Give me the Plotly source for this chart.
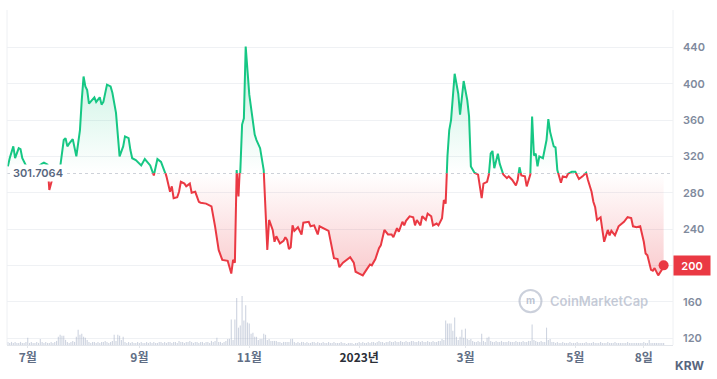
import pandas as pd
import plotly.graph_objects as go

# ---------------- data ----------------
price_dates = [
    "2022-06-20", "2022-06-21", "2022-06-23", "2022-06-24", "2022-06-26", "2022-06-27", "2022-06-28", "2022-06-30",
    "2022-07-03", "2022-07-06", "2022-07-09", "2022-07-10", "2022-07-12", "2022-07-13", "2022-07-15", "2022-07-17",
    "2022-07-19", "2022-07-21", "2022-07-22", "2022-07-23", "2022-07-24", "2022-07-26", "2022-07-28", "2022-07-30",
    "2022-07-31", "2022-08-01", "2022-08-02", "2022-08-03", "2022-08-04", "2022-08-06", "2022-08-07", "2022-08-08",
    "2022-08-10", "2022-08-11", "2022-08-12", "2022-08-14", "2022-08-16", "2022-08-17", "2022-08-19", "2022-08-21",
    "2022-08-23", "2022-08-24", "2022-08-26", "2022-08-27", "2022-08-28", "2022-08-30", "2022-09-01", "2022-09-02",
    "2022-09-04", "2022-09-06", "2022-09-07", "2022-09-09", "2022-09-11", "2022-09-13", "2022-09-15", "2022-09-16",
    "2022-09-17", "2022-09-18", "2022-09-19", "2022-09-20", "2022-09-22", "2022-09-23", "2022-09-24", "2022-09-26",
    "2022-09-27", "2022-09-29", "2022-09-30", "2022-10-02", "2022-10-04", "2022-10-05", "2022-10-08", "2022-10-11",
    "2022-10-13", "2022-10-15", "2022-10-17", "2022-10-20", "2022-10-22", "2022-10-23", "2022-10-24", "2022-10-25",
    "2022-10-26", "2022-10-27", "2022-10-28", "2022-10-29", "2022-10-30", "2022-11-01", "2022-11-02", "2022-11-04",
    "2022-11-05", "2022-11-07", "2022-11-09", "2022-11-11", "2022-11-12", "2022-11-14", "2022-11-15", "2022-11-16",
    "2022-11-18", "2022-11-20", "2022-11-21", "2022-11-22", "2022-11-23", "2022-11-24", "2022-11-25", "2022-11-26",
    "2022-11-28", "2022-11-30", "2022-12-01", "2022-12-04", "2022-12-05", "2022-12-07", "2022-12-09", "2022-12-10",
    "2022-12-12", "2022-12-15", "2022-12-16", "2022-12-18", "2022-12-20", "2022-12-21", "2022-12-23", "2022-12-25",
    "2022-12-27", "2022-12-29", "2022-12-30", "2023-01-01", "2023-01-03", "2023-01-05", "2023-01-07", "2023-01-08",
    "2023-01-10", "2023-01-12", "2023-01-13", "2023-01-15", "2023-01-17", "2023-01-19", "2023-01-20", "2023-01-22",
    "2023-01-23", "2023-01-25", "2023-01-26", "2023-01-27", "2023-01-29", "2023-01-31", "2023-02-01", "2023-02-02",
    "2023-02-04", "2023-02-05", "2023-02-07", "2023-02-08", "2023-02-10", "2023-02-11", "2023-02-13", "2023-02-14",
    "2023-02-16", "2023-02-17", "2023-02-18", "2023-02-19", "2023-02-20", "2023-02-21", "2023-02-23", "2023-02-25",
    "2023-02-26", "2023-02-28", "2023-03-02", "2023-03-03", "2023-03-04", "2023-03-06", "2023-03-08", "2023-03-10",
    "2023-03-11", "2023-03-13", "2023-03-14", "2023-03-15", "2023-03-16", "2023-03-17", "2023-03-19", "2023-03-20",
    "2023-03-22", "2023-03-24", "2023-03-25", "2023-03-27", "2023-03-29", "2023-03-30", "2023-03-31", "2023-04-01",
    "2023-04-03", "2023-04-04", "2023-04-05", "2023-04-06", "2023-04-07", "2023-04-08", "2023-04-09", "2023-04-10",
    "2023-04-11", "2023-04-13", "2023-04-15", "2023-04-16", "2023-04-17", "2023-04-19", "2023-04-20", "2023-04-21",
    "2023-04-23", "2023-04-24", "2023-04-26", "2023-04-27", "2023-04-29", "2023-05-01", "2023-05-03", "2023-05-05",
    "2023-05-07", "2023-05-08", "2023-05-10", "2023-05-11", "2023-05-12", "2023-05-13", "2023-05-15", "2023-05-16",
    "2023-05-17", "2023-05-19", "2023-05-20", "2023-05-21", "2023-05-23", "2023-05-25", "2023-05-27", "2023-05-28",
    "2023-05-30", "2023-06-01", "2023-06-02", "2023-06-04", "2023-06-06", "2023-06-07", "2023-06-08", "2023-06-09",
    "2023-06-10", "2023-06-12", "2023-06-13", "2023-06-14", "2023-06-16", "2023-06-18", "2023-06-19",
]
price_values = [
    309, 318, 331, 318, 329, 328, 318, 310,
    305, 308, 312, 313, 311, 283, 298, 305,
    308, 338, 340, 331, 334, 339, 320, 349,
    382, 408, 397, 393, 378, 382, 385, 380,
    385, 377, 380, 399, 397, 390, 368, 320,
    331, 342, 340, 327, 318, 316, 312, 310,
    317, 312, 310, 299, 317, 314, 305, 298,
    288, 281, 287, 274, 275, 281, 292, 290,
    287, 290, 280, 281, 270, 269, 268, 265,
    243, 217, 206, 205, 191, 206, 203, 305,
    276, 303, 355, 362, 441, 388, 375, 344,
    338, 329, 305, 217, 250, 239, 226, 232,
    224, 227, 231, 228, 218, 220, 244, 238,
    242, 234, 247, 248, 243, 244, 234, 243,
    241, 238, 228, 208, 207, 198, 203, 206,
    209, 203, 193, 191, 189, 195, 201, 200,
    207, 219, 222, 239, 234, 234, 231, 241,
    237, 248, 244, 249, 254, 253, 244, 250,
    244, 254, 250, 257, 254, 244, 246, 244,
    252, 272, 268, 320, 349, 360, 411, 389,
    366, 403, 382, 364, 309, 302, 300, 274,
    290, 292, 300, 323, 326, 307, 323, 312,
    300, 296, 298, 294, 288, 294, 308, 299,
    298, 287, 294, 300, 364, 321, 323, 309,
    320, 318, 338, 361, 347, 331, 330, 305,
    291, 298, 297, 301, 303, 303, 295, 298,
    302, 294, 281, 270, 264, 250, 253, 239,
    226, 239, 233, 238, 233, 243, 246, 248,
    253, 252, 243, 242, 243, 235, 226, 213,
    211, 195, 194, 197, 189, 195, 200,
]

# daily trading volume (relative units), one value per day from volume_start
volume_start = "2022-06-20"
volume_values = [
    3, 2, 3, 2, 3, 2, 2, 3, 2, 2,
    3, 7, 2, 3, 2, 2, 3, 2, 6, 3,
    2, 3, 2, 2, 3, 2, 3, 4, 8, 10,
    9, 9, 5, 3, 2, 3, 4, 3, 8, 15,
    10, 11, 8, 7, 5, 3, 2, 3, 3, 2,
    3, 2, 3, 3, 4, 3, 2, 3, 4, 10,
    4, 10, 9, 5, 8, 3, 2, 3, 2, 3,
    2, 2, 3, 2, 3, 2, 2, 3, 2, 3,
    2, 3, 2, 2, 3, 3, 2, 3, 2, 3,
    3, 2, 3, 3, 2, 4, 3, 3, 2, 3,
    3, 4, 3, 2, 3, 3, 2, 3, 3, 2,
    3, 3, 2, 4, 3, 4, 7, 3, 3, 2,
    3, 4, 6, 6, 25, 5, 25, 46, 17, 19,
    48, 24, 39, 22, 21, 11, 12, 8, 8, 5,
    6, 6, 11, 10, 5, 6, 4, 4, 4, 4,
    3, 3, 2, 3, 3, 3, 3, 6, 6, 3,
    2, 3, 2, 3, 3, 2, 3, 2, 2, 3,
    3, 2, 3, 2, 2, 3, 2, 2, 3, 2,
    2, 3, 2, 2, 2, 3, 2, 2, 1, 2,
    2, 2, 1, 2, 2, 3, 2, 3, 2, 2,
    3, 2, 3, 3, 2, 3, 4, 3, 3, 2,
    3, 3, 4, 3, 3, 4, 3, 3, 4, 3,
    3, 4, 3, 3, 4, 4, 3, 3, 4, 3,
    4, 3, 3, 4, 3, 3, 4, 3, 3, 4,
    4, 6, 5, 24, 21, 21, 21, 14, 27, 8,
    5, 8, 15, 7, 16, 6, 5, 6, 4, 3,
    3, 4, 3, 11, 4, 3, 7, 8, 4, 3,
    3, 4, 3, 3, 4, 3, 3, 3, 4, 3,
    3, 3, 4, 3, 3, 3, 4, 3, 3, 4,
    4, 20, 5, 4, 3, 3, 4, 3, 3, 17,
    5, 6, 3, 3, 2, 3, 2, 2, 3, 2,
    2, 2, 3, 2, 2, 2, 3, 2, 2, 2,
    2, 3, 2, 2, 2, 3, 2, 2, 2, 3,
    2, 2, 2, 3, 2, 2, 2, 3, 2, 2,
    2, 2, 2, 2, 3, 2, 2, 2, 2, 2,
    2, 2, 2, 3, 2, 2, 5, 2, 2, 2,
    2, 2, 2, 2, 2,
]

baseline = 301.7064
x_tick_dates = ["2022-07-01", "2022-09-01", "2022-11-01", "2023-01-01", "2023-03-01", "2023-05-01", "2023-06-08"]
x_tick_labels = ["7월", "9월", "11월", "<b><span style='color:#2b2f38'>2023년</span></b>", "3월", "5월", "8일"]
y_ticks_low = [120, 160, 200, 240, 280]
y_ticks_high = [320, 360, 400, 440]
currency = "KRW"

# ---------------- style ----------------
GREEN = "#16c784"
RED = "#ea3943"
GRID = "#eff1f4"
AXIS_TEXT = "#808a9d"
W, H = 717, 379
M_L, M_R, M_T, M_B = 7, 44, 10, 34
PLOT_H = H - M_T - M_B
Y_MIN, Y_MAX = 112.3, 481.2
split = (baseline - Y_MIN) / (Y_MAX - Y_MIN)
vol_top = max(volume_values) * (split * PLOT_H) / 49.0
last_price = price_values[-1]

vol_dates = pd.date_range(volume_start, periods=len(volume_values), freq="D")

fig = go.Figure()

# volume bars
fig.add_trace(go.Bar(
    x=vol_dates, y=volume_values, yaxis="y3",
    marker=dict(color="rgba(160,172,196,0.5)", line_width=0),
    width=0.62 * 86400000, hoverinfo="skip",
))

# upper (green) part: clipped to the domain above the baseline
fig.add_trace(go.Scatter(
    x=price_dates, y=price_values, yaxis="y2", mode="lines",
    line=dict(color=GREEN, width=2),
    fill="tozeroy",
    fillgradient=dict(type="vertical",
                      colorscale=[[0, "rgba(22,199,132,0)"], [1, "rgba(22,199,132,0.26)"]],
                      start=baseline, stop=max(price_values)),
    hoverinfo="skip",
))

# helper ceiling for the red fill (off-range, clipped)
fig.add_trace(go.Scatter(
    x=[price_dates[0], price_dates[-1]], y=[1000, 1000], yaxis="y",
    mode="lines", line=dict(width=0, color="rgba(0,0,0,0)"), hoverinfo="skip",
))
# lower (red) part: clipped to the domain below the baseline
fig.add_trace(go.Scatter(
    x=price_dates, y=price_values, yaxis="y", mode="lines",
    line=dict(color=RED, width=2),
    fill="tonexty",
    fillgradient=dict(type="vertical",
                      colorscale=[[0, "rgba(234,57,67,0.26)"], [1, "rgba(234,57,67,0)"]],
                      start=min(price_values), stop=baseline),
    hoverinfo="skip",
))

# last price dot
fig.add_trace(go.Scatter(
    x=[price_dates[-1]], y=[last_price], yaxis="y", mode="markers",
    marker=dict(color=RED, size=10), cliponaxis=False, hoverinfo="skip",
))

tick_font = dict(family="Inter, sans-serif", size=11, color=AXIS_TEXT, weight=600)
common_y = dict(side="right", showgrid=True, gridcolor=GRID, gridwidth=1, zeroline=False,
                showline=False, ticks="", tickfont=tick_font, automargin=False,
                ticklabelstandoff=9, fixedrange=True)

# the current-price tag replaces the tick label it sits on
low_tick_text = ["" if v == round(last_price) else str(v) for v in y_ticks_low]

fig.update_layout(
    width=W, height=H,
    margin=dict(l=M_L, r=M_R, t=M_T, b=M_B),
    paper_bgcolor="white", plot_bgcolor="rgba(0,0,0,0)",
    showlegend=False,
    xaxis=dict(
        type="date", range=["2022-06-19 12:00", "2023-06-24 05:00"],
        tickvals=x_tick_dates, ticktext=x_tick_labels,
        showgrid=False, zeroline=False, showline=True, linecolor="#e3e6eb", linewidth=1,
        ticks="outside", ticklen=2, tickcolor="#e3e6eb",
        tickfont=dict(family="Noto Sans CJK KR, sans-serif", size=12, color="#616e85", weight=600),
        anchor="y", automargin=False, fixedrange=True,
    ),
    yaxis=dict(domain=[0, split], range=[Y_MIN, baseline], tickvals=y_ticks_low,
               ticktext=low_tick_text, **common_y),
    yaxis2=dict(domain=[split, 1], range=[baseline, Y_MAX], tickvals=y_ticks_high, anchor="x", **common_y),
    yaxis3=dict(overlaying="y", range=[0, vol_top], visible=False, fixedrange=True),
    shapes=[
        dict(type="line", xref="paper", yref="y", x0=0, x1=1, y0=baseline, y1=baseline,
             line=dict(color="#9aa3b2", width=1, dash="dot")),
        dict(type="line", xref="paper", yref="paper", x0=0, x1=0, y0=0, y1=1,
             line=dict(color="#eef0f3", width=1)),
        dict(type="line", xref="paper", yref="paper", x0=1, x1=1, y0=0, y1=1,
             line=dict(color="#eef0f3", width=1)),
        dict(type="circle", xref="paper", yref="paper",
             x0=0.7695, x1=0.8025, y0=0.098, y1=0.164,
             line=dict(color="rgba(160,170,190,0.55)", width=2)),
    ],
    annotations=[
        dict(text=f"{baseline:.4f}", xref="paper", yref="y", x=0, y=baseline,
             xanchor="left", yanchor="middle", xshift=4, showarrow=False,
             bgcolor="white", borderpad=1,
             font=dict(family="Inter, sans-serif", size=11, color="#58667e", weight=600)),
        dict(text=f"{last_price:.0f}", xref="paper", yref="y", x=1, y=last_price,
             xanchor="left", yanchor="middle", showarrow=False,
             bgcolor=RED, width=32, height=15, borderpad=2, align="center",
             font=dict(family="Inter, sans-serif", size=11, color="white", weight=600)),
        dict(text=currency, xref="paper", yref="paper", x=1.026, y=-0.06,
             xanchor="center", yanchor="middle", showarrow=False,
             font=dict(family="Inter, sans-serif", size=12, color="#58667e", weight=700)),
        dict(text="m", xref="paper", yref="paper", x=0.7865, y=0.133,
             xanchor="center", yanchor="middle", showarrow=False,
             font=dict(family="Inter, sans-serif", size=10, color="rgba(160,170,190,0.7)", weight=700)),
        dict(text="CoinMarketCap", xref="paper", yref="paper", x=0.813, y=0.131,
             xanchor="left", yanchor="middle", showarrow=False,
             font=dict(family="Inter, sans-serif", size=13, color="rgba(150,160,182,0.55)", weight=600)),
    ],
)

fig.write_html("out.html", config={"displayModeBar": False},
               post_script="document.body.style.margin='0';document.body.style.padding='0';")
